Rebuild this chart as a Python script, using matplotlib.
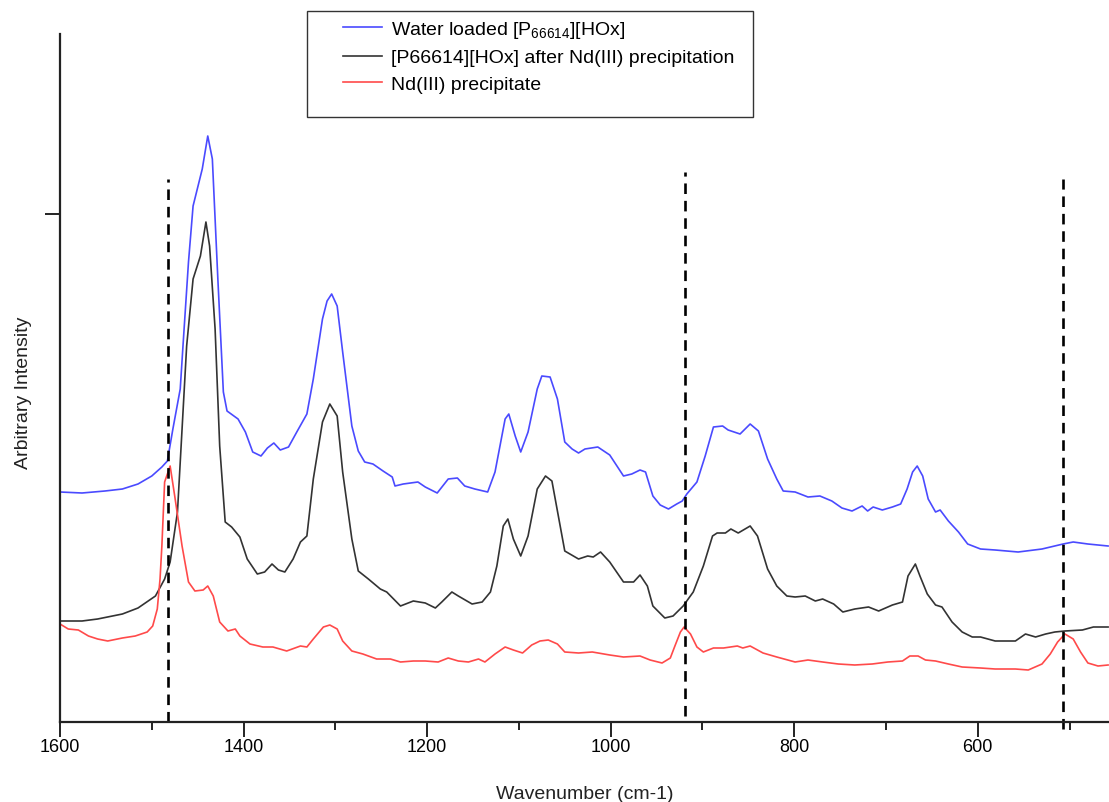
import numpy as np
import matplotlib
matplotlib.use('Agg')
from matplotlib import pyplot as plt

plt.rcParams['font.family'] = ['Liberation Sans', 'DejaVu Sans']
plt.rcParams['mathtext.default'] = 'regular'

# Water loaded [P66614][HOx]
blue_wn = [1600, 1576, 1551, 1532, 1515, 1500, 1489, 1483, 1477, 1469, 1466, 1460, 1455, 1445, 1439,
           1434, 1428, 1422, 1418, 1406, 1398, 1390, 1381, 1374, 1367, 1360, 1351, 1342, 1331, 1324,
           1314, 1309, 1304, 1298, 1292, 1282, 1275, 1268, 1259, 1248, 1238, 1235, 1226, 1210, 1202,
           1189, 1177, 1167, 1159, 1148, 1134, 1126, 1115, 1111, 1104, 1098, 1090, 1080, 1075, 1066,
           1058, 1050, 1042, 1035, 1028, 1014, 1001, 986, 977, 968, 962, 954, 946, 937, 928,
           922, 917, 906, 897, 888, 878, 872, 859, 848, 839, 829, 819, 812, 799, 785,
           772, 759, 748, 737, 726, 720, 714, 704, 693, 684, 677, 671, 666, 660, 654,
           646, 641, 632, 621, 611, 597, 581, 556, 530, 507, 496, 480, 458]
blue_int = [2.30, 2.29, 2.31, 2.33, 2.38, 2.46, 2.55, 2.61, 2.93, 3.33, 3.76, 4.60, 5.16, 5.53, 5.86,
            5.63, 4.43, 3.30, 3.11, 3.03, 2.90, 2.70, 2.66, 2.74, 2.79, 2.72, 2.75, 2.90, 3.08, 3.43,
            4.03, 4.21, 4.28, 4.16, 3.70, 2.96, 2.71, 2.60, 2.58, 2.51, 2.45, 2.36, 2.38, 2.40, 2.35,
            2.29, 2.43, 2.44, 2.36, 2.33, 2.30, 2.50, 3.03, 3.08, 2.86, 2.70, 2.90, 3.33, 3.46, 3.45,
            3.23, 2.80, 2.73, 2.69, 2.73, 2.75, 2.67, 2.46, 2.48, 2.52, 2.50, 2.26, 2.17, 2.13, 2.18,
            2.21, 2.28, 2.40, 2.66, 2.95, 2.96, 2.92, 2.88, 2.98, 2.91, 2.63, 2.43, 2.31, 2.30, 2.25,
            2.26, 2.21, 2.14, 2.11, 2.16, 2.11, 2.15, 2.12, 2.15, 2.18, 2.33, 2.50, 2.56, 2.46, 2.23,
            2.10, 2.12, 2.01, 1.90, 1.78, 1.73, 1.72, 1.70, 1.73, 1.78, 1.80, 1.78, 1.76]

# [P66614][HOx] after Nd(III) precipitation
black_wn = [1600, 1576, 1559, 1532, 1515, 1496, 1486, 1480, 1472, 1467, 1462, 1455, 1447, 1441, 1437,
            1431, 1426, 1420, 1413, 1404, 1396, 1385, 1377, 1369, 1362, 1355, 1346, 1338, 1331, 1324,
            1314, 1306, 1298, 1292, 1282, 1275, 1264, 1251, 1244, 1229, 1215, 1202, 1191, 1184, 1173,
            1166, 1151, 1140, 1131, 1124, 1117, 1112, 1106, 1098, 1090, 1080, 1071, 1064, 1057, 1050,
            1035, 1025, 1019, 1011, 1001, 986, 975, 968, 960, 954, 941, 932, 921, 910, 899,
            889, 884, 875, 869, 861, 848, 840, 829, 819, 808, 799, 788, 777, 769, 757,
            747, 734, 719, 708, 693, 682, 676, 668, 663, 655, 646, 639, 628, 617, 606,
            597, 581, 559, 548, 537, 526, 516, 505, 486, 474, 458]
black_int = [1.01, 1.01, 1.03, 1.08, 1.14, 1.26, 1.43, 1.60, 2.10, 2.93, 3.76, 4.43, 4.66, 5.00, 4.76,
             3.93, 2.76, 2.00, 1.95, 1.85, 1.63, 1.48, 1.50, 1.58, 1.52, 1.50, 1.63, 1.80, 1.86, 2.43,
             3.00, 3.18, 3.06, 2.50, 1.83, 1.51, 1.43, 1.33, 1.30, 1.16, 1.21, 1.19, 1.14, 1.20, 1.30,
             1.26, 1.18, 1.20, 1.30, 1.56, 1.96, 2.03, 1.83, 1.66, 1.86, 2.33, 2.46, 2.41, 2.06, 1.71,
             1.63, 1.66, 1.65, 1.70, 1.60, 1.40, 1.40, 1.47, 1.36, 1.16, 1.04, 1.06, 1.16, 1.30, 1.56,
             1.86, 1.89, 1.89, 1.93, 1.89, 1.96, 1.86, 1.53, 1.36, 1.26, 1.25, 1.26, 1.21, 1.23, 1.18,
             1.10, 1.13, 1.15, 1.11, 1.17, 1.20, 1.46, 1.58, 1.46, 1.28, 1.17, 1.15, 1.00, 0.90, 0.85,
             0.85, 0.81, 0.81, 0.88, 0.85, 0.88, 0.90, 0.91, 0.92, 0.95, 0.95]

# Nd(III) precipitate
red_wn = [1600, 1591, 1580, 1569, 1559, 1548, 1532, 1518, 1505, 1499, 1494, 1491, 1489, 1486, 1480,
          1475, 1467, 1460, 1453, 1444, 1439, 1433, 1426, 1417, 1409, 1404, 1393, 1379, 1368, 1353,
          1338, 1331, 1324, 1313, 1306, 1298, 1292, 1282, 1270, 1255, 1240, 1229, 1215, 1202, 1188,
          1177, 1166, 1155, 1144, 1137, 1126, 1115, 1106, 1096, 1086, 1077, 1068, 1058, 1050, 1035,
          1020, 1001, 986, 968, 957, 944, 935, 930, 924, 920, 913, 906, 899, 888, 877,
          862, 856, 848, 834, 819, 799, 785, 769, 752, 734, 715, 698, 682, 674, 665,
          657, 646, 632, 617, 597, 581, 559, 545, 530, 521, 513, 505, 496, 488, 480,
          469, 458]
red_int = [0.98, 0.93, 0.92, 0.86, 0.83, 0.81, 0.84, 0.86, 0.90, 0.96, 1.13, 1.43, 1.76, 2.40, 2.56,
           2.26, 1.76, 1.40, 1.31, 1.32, 1.36, 1.26, 1.00, 0.91, 0.93, 0.86, 0.78, 0.75, 0.75, 0.71,
           0.76, 0.75, 0.83, 0.95, 0.97, 0.93, 0.81, 0.71, 0.68, 0.63, 0.63, 0.60, 0.61, 0.61, 0.60,
           0.64, 0.61, 0.60, 0.63, 0.60, 0.68, 0.75, 0.72, 0.69, 0.77, 0.81, 0.82, 0.78, 0.70, 0.69,
           0.70, 0.67, 0.65, 0.66, 0.62, 0.59, 0.64, 0.76, 0.90, 0.95, 0.88, 0.75, 0.70, 0.74, 0.74,
           0.76, 0.74, 0.76, 0.69, 0.65, 0.60, 0.62, 0.60, 0.58, 0.57, 0.58, 0.60, 0.61, 0.66, 0.66,
           0.62, 0.61, 0.58, 0.55, 0.54, 0.53, 0.53, 0.52, 0.58, 0.68, 0.80, 0.88, 0.83, 0.70, 0.59,
           0.56, 0.57]

# dashed marker lines (Nd(III) bands)
marker_wn = [1482, 919, 507]
marker_top = [5.43, 5.50, 5.43]
marker_bottom = [0.0, 0.06, -0.07]

labels = ['Water loaded [P$_{66614}$][HOx]',
          '[P66614][HOx] after Nd(III) precipitation',
          'Nd(III) precipitate']

W, H = 1109, 803
fig = plt.figure(figsize=(W / 100, H / 100), dpi=100)
ax = fig.add_axes([60 / W, 80 / H, (W - 60) / W, 688 / H])

ax.plot(blue_wn, blue_int, color='#4a4aff', lw=1.2, label=labels[0])
ax.plot(black_wn, black_int, color='#333333', lw=1.2, label=labels[1])
ax.plot(red_wn, red_int, color='#ff4a4a', lw=1.2, label=labels[2])

for wn, top, bot in zip(marker_wn, marker_top, marker_bottom):
    ax.plot([wn, wn], [bot, top], color='black', lw=1.9, dashes=(4, 2.6), clip_on=False)

ax.set_xlim(1600, 457)
ax.set_ylim(0, 6.88)

ax.spines['top'].set_visible(False)
ax.spines['right'].set_visible(False)
for s in ['left', 'bottom']:
    ax.spines[s].set_linewidth(1.6)
    ax.spines[s].set_color('#222222')

ax.set_xticks([1600, 1400, 1200, 1000, 800, 600])
ax.set_xticks([1500, 1300, 1100, 900, 700, 500], minor=True)
ax.set_yticks([5.08])
ax.set_yticklabels([])
ax.tick_params(axis='both', which='major', direction='out', length=10.5, width=1.4,
               color='#222222', labelsize=13, pad=1)
ax.tick_params(axis='x', which='minor', direction='out', length=5.5, width=1.4, color='#222222')

ax.set_xlabel('Wavenumber (cm-1)', fontsize=14, color='#222222')
ax.set_ylabel('Arbitrary Intensity', fontsize=14, color='#222222')
ax.xaxis.set_label_coords((585 - 60) / 1049, (723 - 786) / 688)
ax.yaxis.set_label_coords((32 - 60) / 1049, (723 - 393) / 688)

leg = ax.legend(loc='upper left', bbox_to_anchor=(343 / W, 1 - 20 / H),
                bbox_transform=fig.transFigure, frameon=False, fontsize=14,
                handlelength=2.0, handletextpad=0.45, borderpad=0, borderaxespad=0,
                labelspacing=0.45)
box = plt.Rectangle((307 / W, 1 - 118 / H), (753 - 307) / W, (118 - 12) / H,
                    transform=fig.transFigure, fill=False, edgecolor='#333333', lw=1.0)
fig.patches.append(box)

fig.savefig('out.png', dpi=100)
